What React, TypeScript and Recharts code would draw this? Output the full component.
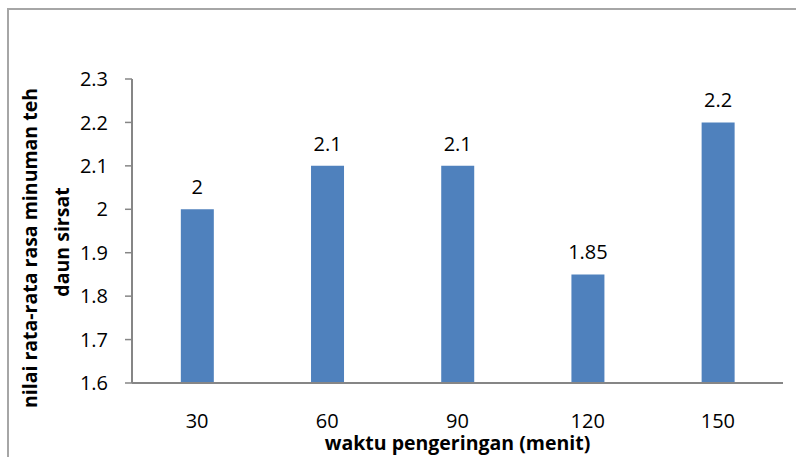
import React from "react";
import { BarChart, Bar, XAxis, YAxis, LabelList } from "recharts";

const categories = ["30", "60", "90", "120", "150"];
const nilaiRasa = [2, 2.1, 2.1, 1.85, 2.2];
const yTicks = [1.6, 1.7, 1.8, 1.9, 2, 2.1, 2.2, 2.3];

const data = categories.map((waktu, i) => ({ waktu, nilai: nilaiRasa[i] }));

const FONT = "'Open Sans', sans-serif";
const AXIS_GRAY = "#868686";

const YTitle = () => (
  <g fontFamily={FONT} fontWeight="bold" fontSize={19.5} fill="#000">
    <text transform="translate(37,248) rotate(-90)" textAnchor="middle">
      nilai rata-rata rasa minuman teh
    </text>
    <text transform="translate(69,242) rotate(-90)" textAnchor="middle">
      daun sirsat
    </text>
  </g>
);

export default function App() {
  return (
    <div
      style={{
        position: "fixed",
        left: 0,
        top: 0,
        width: 796,
        height: 457,
        background: "#fff",
        overflow: "hidden",
      }}
    >
      <div
        style={{
          position: "absolute",
          left: 7,
          top: 8,
          width: 800,
          height: 447,
          borderLeft: "2px solid #a6a6a6",
          borderTop: "2px solid #a6a6a6",
          borderBottom: "1px solid #e4e4e4",
        }}
      />
      <div style={{ position: "absolute", left: 0, top: 0 }}>
        <BarChart
          width={796}
          height={457}
          data={data}
          margin={{ top: 79, right: 13, left: 0, bottom: 0 }}
          barCategoryGap="37.5%"
        >
          <XAxis
            dataKey="waktu"
            height={74}
            tickLine={false}
            tickSize={0}
            tickMargin={31}
            axisLine={{ stroke: AXIS_GRAY, strokeWidth: 2 }}
            tick={{ fontSize: 20, fill: "#000", fontFamily: FONT }}
            label={{
              value: "waktu pengeringan (menit)",
              position: "insideBottom",
              offset: 7,
              style: { fontSize: 19.5, fontWeight: "bold", fill: "#000", fontFamily: FONT },
            }}
          />
          <YAxis
            width={132}
            domain={[1.6, 2.3]}
            ticks={yTicks}
            interval={0}
            tickSize={7}
            tickMargin={17}
            tickFormatter={(v: number) => String(Math.round(v * 100) / 100)}
            axisLine={{ stroke: AXIS_GRAY, strokeWidth: 2 }}
            tickLine={{ stroke: AXIS_GRAY, strokeWidth: 1.5 }}
            tick={{ fontSize: 20, fill: "#000", fontFamily: FONT }}
            label={{ content: () => <YTitle /> }}
          />
          <Bar dataKey="nilai" fill="#4f81bd" isAnimationActive={false}>
            <LabelList
              dataKey="nilai"
              position="top"
              offset={15}
              style={{ fontSize: 20, fill: "#000", fontFamily: FONT }}
            />
          </Bar>
        </BarChart>
      </div>
    </div>
  );
}
